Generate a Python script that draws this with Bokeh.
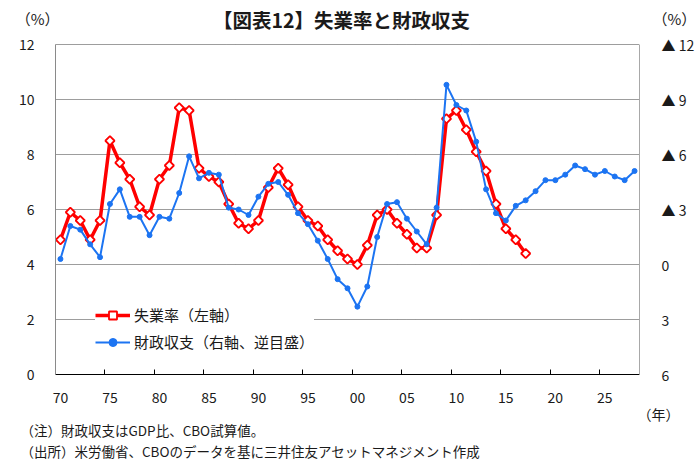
import math
from bokeh.plotting import figure
from bokeh.models import (Range1d, LinearAxis, FixedTicker, Label, Legend,
                          LegendItem, Grid, Title)
from bokeh.embed import file_html
from bokeh.resources import INLINE

# ---------------- data ----------------
years_unemp = list(range(1970, 2018))
unemployment = [4.9, 5.9, 5.6, 4.9, 5.6, 8.5, 7.7, 7.1, 6.1, 5.8,
                7.1, 7.6, 9.7, 9.6, 7.5, 7.2, 7.0, 6.2, 5.5, 5.3,
                5.6, 6.8, 7.5, 6.9, 6.1, 5.6, 5.4, 4.9, 4.5, 4.2,
                4.0, 4.7, 5.8, 6.0, 5.5, 5.1, 4.6, 4.6, 5.8, 9.3,
                9.6, 8.9, 8.1, 7.4, 6.2, 5.3, 4.9, 4.4]

years_budget = list(range(1970, 2029))
budget_balance = [-0.3, -2.1, -1.9, -1.1, -0.4, -3.3, -4.1, -2.6, -2.6, -1.6,
                  -2.6, -2.5, -3.9, -5.9, -4.7, -5.0, -4.9, -3.1, -3.0, -2.7,
                  -3.7, -4.4, -4.5, -3.8, -2.8, -2.2, -1.3, -0.3, 0.8, 1.3,
                  2.3, 1.2, -1.5, -3.3, -3.4, -2.5, -1.8, -1.1, -3.1, -9.8,
                  -8.7, -8.4, -6.7, -4.1, -2.8, -2.4, -3.2, -3.5, -4.0, -4.6,
                  -4.6, -4.9, -5.4, -5.2, -4.9, -5.1, -4.8, -4.6, -5.1]

x_tick_years = [1970, 1975, 1980, 1985, 1990, 1995, 2000, 2005, 2010, 2015, 2020, 2025]
x_tick_labels = ["70", "75", "80", "85", "90", "95", "00", "05", "10", "15", "20", "25"]
left_ticks = [0, 2, 4, 6, 8, 10, 12]
right_ticks = [-12, -9, -6, -3, 0, 3, 6]
right_tick_labels = ["▲ 12", "▲ 9", "▲ 6", "▲ 3", "0", "3", "6"]

title_text = "【図表12】失業率と財政収支"
unit_text = "（%）"
year_text = "（年）"
legend_labels = ["失業率（左軸）", "財政収支（右軸、逆目盛）"]
note1 = "（注）財政収支はGDP比、CBO試算値。"
note2 = "（出所）米労働省、CBOのデータを基に三井住友アセットマネジメント作成"

# ---------------- layout ----------------
W, H = 699, 463
FL, FR = 55, 639          # frame left / right (px)
FT, GT, FB = 6, 44, 374   # frame top, pixel of the "12" line, frame bottom
XMIN, XMAX = 1969.5, 2028.5
PXU = (FB - GT) / 12.0
YTOP = 12 + (GT - FT) / PXU
RTOP = -12 - (GT - FT) * 18.0 / (FB - GT)
UNIT_Y = round(12 + (GT - 18) / PXU, 3)                # left "(%)" height
UNIT_R = round(-12 - (GT - 18) * 18.0 / (FB - GT), 3)  # right "(%)" height

RED = "#FF0000"
BLUE = "#1C74F2"
JP = "Noto Sans CJK JP"
TXT = "#1a1a1a"


def dx(px):
    return XMIN + (px - FL) * (XMAX - XMIN) / (FR - FL)


def dy(py):
    return 12 + (GT - py) / PXU


p = figure(width=W, height=H, output_backend="svg", toolbar_location=None,
           x_range=Range1d(XMIN, XMAX), y_range=Range1d(0, YTOP),
           x_axis_type=None, y_axis_type=None,
           min_border_left=FL, min_border_right=W - FR,
           min_border_top=FT, min_border_bottom=H - FB)
p.extra_y_ranges = {"right": Range1d(start=6, end=RTOP)}
p.outline_line_color = None
p.background_fill_color = "white"
p.border_fill_color = "white"

# grid
p.add_layout(Grid(dimension=1, ticker=FixedTicker(ticks=left_ticks[1:]),
                  grid_line_color="#3a3a3a", grid_line_dash="1 1", grid_line_width=1))

# bottom axis
xaxis = LinearAxis(
    ticker=FixedTicker(ticks=x_tick_years,
                       minor_ticks=[y - 0.5 for y in x_tick_years[1:]]),
    major_label_overrides={y: s for y, s in zip(x_tick_years, x_tick_labels)},
    major_tick_line_color=None, minor_tick_in=5, minor_tick_out=0,
    minor_tick_line_color="black", axis_line_color="black",
    major_label_standoff=11, major_label_text_font=JP,
    major_label_text_font_size="14px", major_label_text_color=TXT)
p.add_layout(xaxis, "below")

# left axis (line + ticks), then "(%)"
laxis = LinearAxis(
    ticker=FixedTicker(ticks=left_ticks), bounds=(0, 12),
    major_tick_line_color=None, minor_tick_line_color=None,
    axis_line_color="#8a8a8a", major_label_standoff=15,
    major_label_text_font=JP, major_label_text_font_size="14px",
    major_label_text_color=TXT)
p.add_layout(laxis, "left")
lunit = LinearAxis(
    ticker=FixedTicker(ticks=[UNIT_Y]), major_label_overrides={UNIT_Y: unit_text},
    axis_line_color=None, major_tick_line_color=None, minor_tick_line_color=None,
    major_label_standoff=-50, major_label_text_font=JP,
    major_label_text_font_size="15px", major_label_text_color=TXT)
p.add_layout(lunit, "left")

# right axis (inverted, budget balance), then "(%)"
raxis = LinearAxis(
    y_range_name="right", bounds=(-12, 6),
    ticker=FixedTicker(ticks=right_ticks),
    major_label_overrides={t: s for t, s in zip(right_ticks, right_tick_labels)},
    major_tick_line_color=None, minor_tick_line_color=None,
    axis_line_color="#a8a8a8", major_label_standoff=16,
    major_label_text_font=JP, major_label_text_font_size="14px",
    major_label_text_color=TXT)
p.add_layout(raxis, "right")
runit = LinearAxis(
    y_range_name="right",
    ticker=FixedTicker(ticks=[UNIT_R]), major_label_overrides={UNIT_R: unit_text},
    axis_line_color=None, major_tick_line_color=None, minor_tick_line_color=None,
    major_label_standoff=-51, major_label_text_font=JP,
    major_label_text_font_size="15px", major_label_text_color=TXT)
p.add_layout(runit, "right")

# series
red_line = p.line(years_unemp, unemployment, line_color=RED, line_width=3.5)
red_pts = p.scatter(years_unemp, unemployment, marker="square", angle=math.pi / 4,
                    size=6.5, fill_color="white", line_color=RED, line_width=1.8)
blue_line = p.line(years_budget, budget_balance, y_range_name="right",
                   line_color=BLUE, line_width=2)
blue_pts = p.scatter(years_budget, budget_balance, y_range_name="right",
                     marker="circle", size=5, fill_color=BLUE, line_color=BLUE)

legend = Legend(items=[LegendItem(label=legend_labels[0], renderers=[red_line, red_pts]),
                       LegendItem(label=legend_labels[1], renderers=[blue_line, blue_pts])],
                location=(40, 22), orientation="vertical",
                glyph_width=35, glyph_height=20, label_height=20, spacing=6,
                padding=7, margin=0, label_standoff=4,
                border_line_color=None, background_fill_color="white",
                background_fill_alpha=1.0,
                label_text_font=JP, label_text_font_size="15px",
                label_text_color=TXT)
p.add_layout(legend)

# title inside the (extended) frame
p.add_layout(Label(x=dx(341), y=dy(19), text=title_text, text_font=JP,
                   text_font_size="19.5px", text_font_style="bold",
                   text_align="center", text_baseline="middle", text_color=TXT))

# "(年)" and notes in the bottom panel
p.add_layout(Title(text=year_text, align="right", offset=-40, text_font=JP,
                   text_font_size="14px", text_font_style="normal",
                   text_color=TXT, standoff=-8), "below")
p.add_layout(Title(text=note1, align="left", offset=-35, text_font=JP,
                   text_font_size="13.5px", text_font_style="normal",
                   text_color=TXT, standoff=-4), "below")
p.add_layout(Title(text=note2, align="left", offset=-35, text_font=JP,
                   text_font_size="13.5px", text_font_style="normal",
                   text_color=TXT, standoff=3), "below")

open("out.html", "w").write(file_html(p, INLINE))
